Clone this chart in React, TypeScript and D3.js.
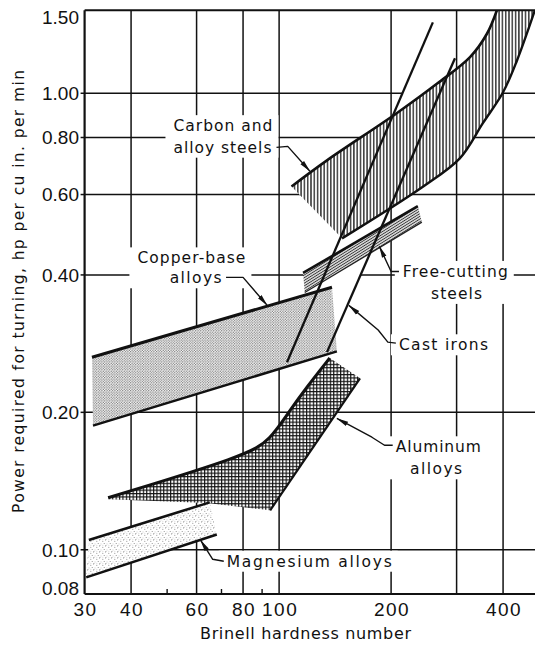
import React from "react";
import * as d3 from "d3";

// ---------- axes ----------
const X_TICKS = [30, 40, 60, 80, 100, 200, 400];
const X_TICK_LABELS = ["30", "40", "60", "80", "100", "200", "400"];
const X_GRID = [40, 60, 80, 100, 200, 300, 400];
const X_MINOR = [50, 70, 90];
const Y_TICKS = [1.5, 1.0, 0.8, 0.6, 0.4, 0.2, 0.1, 0.08];
const Y_TICK_LABELS = ["1.50", "1.00", "0.80", "0.60", "0.40", "0.20", "0.10", "0.08"];
const Y_GRID = [1.0, 0.8, 0.6, 0.4, 0.2, 0.1];

// ---------- bands: [Brinell hardness, hp per cu in. per min] ----------
const carbonUpper = [[108, 0.625], [134.5, 0.713], [207, 0.904], [266, 1.05], [326, 1.2], [362, 1.35], [385, 1.52]];
const carbonLower = [[147.6, 0.481], [244, 0.625], [306, 0.72], [353, 0.86], [400, 1.005], [436, 1.18], [487, 1.52]];

const castIronA = [[105, 0.2575], [259, 1.43]];
const castIronB = [[134.5, 0.271], [297, 1.193]];

const freeUpper = [[116, 0.404], [236, 0.566]];
const freeLower = [[117.2, 0.366], [242, 0.522]];

const copperUpper = [[31.4, 0.264], [138.7, 0.376]];
const copperLower = [[31.6, 0.187], [143, 0.272]];

const aluminumUpper = [[34.7, 0.13], [82, 0.161], [94.6, 0.174], [106.9, 0.202], [118.6, 0.227], [136.8, 0.263]];
const aluminumLower = [[165, 0.2375], [94.6, 0.122], [63.9, 0.1266], [34.7, 0.129]];

const magnesiumUpper = [[30.8, 0.105], [65.1, 0.127]];
const magnesiumLower = [[30.3, 0.087], [68, 0.108]];

// ---------- annotations ----------
const LABELS = [
  { lines: ["Carbon and", "alloy steels"], xs: [52.0, 52.0], ys: [0.826, 0.741], ws: [99, 98] },
  { lines: ["Copper-base", "alloys"], xs: [41.6, 50.8], ys: [0.424, 0.3835], ws: [108, 52] },
  { lines: ["Free-cutting", "steels"], xs: [215, 256], ys: [0.396, 0.3544], ws: [105, 51] },
  { lines: ["Cast irons"], xs: [210], ys: [0.2735], ws: [89] },
  { lines: ["Aluminum", "alloys"], xs: [206, 225], ys: [0.1635, 0.1463], ws: [85, 52] },
  { lines: ["Magnesium alloys"], xs: [72.3], ys: [0.0918], ws: [165] },
];
const LEADERS = [
  [[98.4, 0.761], [105.5, 0.765], [121, 0.675]],
  [[72, 0.395], [80, 0.395], [92.9, 0.343]],
  [[210, 0.407], [200, 0.407], [186, 0.462]],
  [[206, 0.2835], [196, 0.285], [184.6, 0.303], [154, 0.343]],
  [[202, 0.1694], [192, 0.1694], [177.6, 0.1764], [143, 0.194]],
  [[71, 0.0944], [66.3, 0.0953], [61.5, 0.105]],
];

const W = 535;
const H = 645;
const X0 = 84.6;
const PX_PER_DEC_X = 372;
const Y_BOTTOM = 594;
const PX_PER_DEC_Y = 456.5;

export default function App() {
  const x = d3.scaleLog().domain([30, 500]).range([X0, X0 + PX_PER_DEC_X * Math.log10(500 / 30)]);
  const y = d3.scaleLog().domain([0.08, 1.52]).range([Y_BOTTOM, Y_BOTTOM - PX_PER_DEC_Y * Math.log10(1.52 / 0.08)]);
  const top = y(1.52);
  const right = W;

  const straight = d3.line<number[]>().x((d) => x(d[0])).y((d) => y(d[1]));
  const smooth = d3.line<number[]>().x((d) => x(d[0])).y((d) => y(d[1])).curve(d3.curveCatmullRom.alpha(0.5));
  const soft = d3.line<number[]>().x((d) => x(d[0])).y((d) => y(d[1])).curve(d3.curveBasis);

  const band = (upper: number[][], lower: number[][], gen: any) => {
    const a = gen(upper) as string;
    const b = gen([...lower].reverse()) as string;
    return a + "L" + b.slice(1) + "Z";
  };

  const carbonPath = band(carbonUpper, carbonLower, smooth);
  const castPath = straight([...castIronA, ...[...castIronB].reverse()])! + "Z";
  const freePath = band(freeUpper, freeLower, straight);
  const copperPath = band(copperUpper, copperLower, straight);
  const alPath = (soft(aluminumUpper) as string) + "L" + (straight(aluminumLower) as string).slice(1) + "Z";
  const mgPath = band(magnesiumUpper, magnesiumLower, straight);

  const font = "'DejaVu Sans', sans-serif";
  const tickFont = "'Liberation Sans', Arial, sans-serif";

  const labelRects = LABELS.map((L) => {
    const lefts = L.xs.map((v) => x(v));
    const rights = L.xs.map((v, i) => x(v) + L.ws[i]);
    const bases = L.ys.map((v) => y(v));
    const x1 = Math.min(...lefts) - 8;
    const x2 = Math.max(...rights) + 6;
    const y1 = Math.min(...bases) - 16;
    const y2 = Math.max(...bases) + 5;
    return { x: x1, y: y1, w: x2 - x1, h: y2 - y1 };
  });

  return (
    <svg width={W} height={H} style={{ position: "absolute", left: 0, top: 0, background: "#fff" }}>
      <defs>
        <clipPath id="plot">
          <rect x={X0} y={top} width={right - X0} height={Y_BOTTOM - top} />
        </clipPath>
        <pattern id="vhatch" width="3.3" height="10" patternUnits="userSpaceOnUse">
          <rect width="3.3" height="10" fill="#fff" />
          <line x1="0.8" y1="0" x2="0.8" y2="10" stroke="#111" strokeWidth="1.25" />
        </pattern>
        <pattern id="fhatch" width="2.3" height="2.3" patternUnits="userSpaceOnUse" patternTransform="rotate(-32)">
          <rect width="2.3" height="2.3" fill="#fff" />
          <line x1="0" y1="1.15" x2="2.3" y2="1.15" stroke="#333" strokeWidth="1.1" />
        </pattern>
        <pattern id="stipple" width="2.6" height="2.6" patternUnits="userSpaceOnUse">
          <rect width="2.6" height="2.6" fill="#fff" />
          <circle cx="0.65" cy="0.65" r="0.62" fill="#555" />
          <circle cx="1.95" cy="1.95" r="0.62" fill="#555" />
        </pattern>
        <pattern id="sparse" width="6" height="6" patternUnits="userSpaceOnUse">
          <rect width="6" height="6" fill="#fff" />
          <circle cx="0.8" cy="1.2" r="0.5" fill="#777" />
          <circle cx="3.6" cy="0.6" r="0.45" fill="#888" />
          <circle cx="2.2" cy="3.4" r="0.5" fill="#777" />
          <circle cx="5.0" cy="3.9" r="0.45" fill="#888" />
          <circle cx="3.9" cy="5.4" r="0.5" fill="#777" />
          <circle cx="0.9" cy="5.2" r="0.4" fill="#999" />
        </pattern>
        <pattern id="xhatch" width="3.4" height="3.4" patternUnits="userSpaceOnUse">
          <rect width="3.4" height="3.4" fill="#111" />
          <rect x="1.15" y="1.15" width="2.25" height="2.25" fill="#fff" />
        </pattern>
        <marker id="arrow" viewBox="0 0 12 6" refX="11.5" refY="3" markerWidth="12" markerHeight="6" markerUnits="userSpaceOnUse" orient="auto">
          <path d="M0,0.6 L12,3 L0,5.4 z" fill="#111" />
        </marker>
      </defs>

      <rect x={0} y={0} width={W} height={H} fill="#fff" />

      <g clipPath="url(#plot)">
        {X_GRID.map((v) => (
          <line key={"gx" + v} x1={x(v)} x2={x(v)} y1={top} y2={Y_BOTTOM} stroke="#111" strokeWidth={1.5} />
        ))}
        {Y_GRID.map((v) => (
          <line key={"gy" + v} x1={X0} x2={right} y1={y(v)} y2={y(v)} stroke="#111" strokeWidth={1.5} />
        ))}

        {labelRects.map((r, i) => (
          <rect key={"lr" + i} x={r.x} y={r.y} width={r.w} height={r.h} fill="#fff" />
        ))}

        <path d={castPath} fill="#fff" />
        <path d={carbonPath} fill="url(#vhatch)" />
        <path d={copperPath} fill="url(#stipple)" />
        <path d={alPath} fill="url(#xhatch)" />
        <path d={mgPath} fill="url(#sparse)" />
        <path d={freePath} fill="url(#fhatch)" />

        <path d={smooth(carbonUpper)!} fill="none" stroke="#111" strokeWidth={2.6} />
        <path d={smooth(carbonLower)!} fill="none" stroke="#111" strokeWidth={2.4} />
        <path d={straight(freeUpper)!} fill="none" stroke="#111" strokeWidth={2.6} />
        <path d={straight(freeLower)!} fill="none" stroke="#222" strokeWidth={1.3} />
        <path d={straight(copperUpper)!} fill="none" stroke="#111" strokeWidth={3} />
        <path d={straight(copperLower)!} fill="none" stroke="#111" strokeWidth={2.4} />
        <path d={soft(aluminumUpper)!} fill="none" stroke="#111" strokeWidth={3} />
        <path d={straight(aluminumLower.slice(0, 2))!} fill="none" stroke="#111" strokeWidth={2.2} />
        <path d={straight(magnesiumUpper)!} fill="none" stroke="#111" strokeWidth={2.6} />
        <path d={straight(magnesiumLower)!} fill="none" stroke="#111" strokeWidth={2.6} />
        <path d={straight(castIronA)!} fill="none" stroke="#111" strokeWidth={2.3} />
        <path d={straight(castIronB)!} fill="none" stroke="#111" strokeWidth={2.3} />
      </g>

      {/* frame */}
      <line x1={X0} x2={X0} y1={top} y2={Y_BOTTOM} stroke="#111" strokeWidth={2.2} />
      <line x1={X0} x2={right} y1={top} y2={top} stroke="#111" strokeWidth={2.2} />
      <line x1={X0} x2={right} y1={Y_BOTTOM} y2={Y_BOTTOM} stroke="#111" strokeWidth={2.2} />

      {/* minor ticks and outward y ticks */}
      {X_MINOR.map((v) => (
        <line key={"mx" + v} x1={x(v)} x2={x(v)} y1={Y_BOTTOM} y2={Y_BOTTOM - 5} stroke="#111" strokeWidth={1.4} />
      ))}
      {Y_GRID.map((v) => (
        <line key={"ty" + v} x1={X0 - 4} x2={X0} y1={y(v)} y2={y(v)} stroke="#111" strokeWidth={1.5} />
      ))}

      {/* tick labels */}
      {X_TICKS.map((v, i) => (
        <text key={"xl" + v} x={x(v) + 1} y={616} textAnchor="middle" fontFamily={tickFont} fontSize={19} letterSpacing={1.5} fill="#111">
          {X_TICK_LABELS[i]}
        </text>
      ))}
      {Y_TICKS.map((v, i) => {
        const cy = Math.min(Math.max(y(v), 17), 588);
        return (
          <text key={"yl" + v} x={79} y={cy + 6.8} textAnchor="end" fontFamily={tickFont} fontSize={19} fill="#111">
            {Y_TICK_LABELS[i]}
          </text>
        );
      })}

      {/* leaders */}
      {LEADERS.map((pts, i) => (
        <path key={"ld" + i} d={straight(pts)!} fill="none" stroke="#111" strokeWidth={1.4} strokeLinejoin="round" markerEnd="url(#arrow)" />
      ))}

      {/* labels */}
      {LABELS.map((L, i) => (
        <g key={"lb" + i}>
          {L.lines.map((t, j) => (
            <text key={j} x={x(L.xs[j])} y={y(L.ys[j])} fontFamily={font} fontSize={15.5} textLength={L.ws[j]} lengthAdjust="spacing" fill="#111">
              {t}
            </text>
          ))}
        </g>
      ))}

      {/* axis titles */}
      <text x={305.5} y={639} textAnchor="middle" fontFamily={font} fontSize={16} textLength={211} lengthAdjust="spacing" fill="#111">
        Brinell hardness number
      </text>
      <text transform="translate(24,291.5) rotate(-90)" textAnchor="middle" fontFamily={font} fontSize={15.5} textLength={443} lengthAdjust="spacing" fill="#111">
        Power required for turning, hp per cu in. per min
      </text>
    </svg>
  );
}
